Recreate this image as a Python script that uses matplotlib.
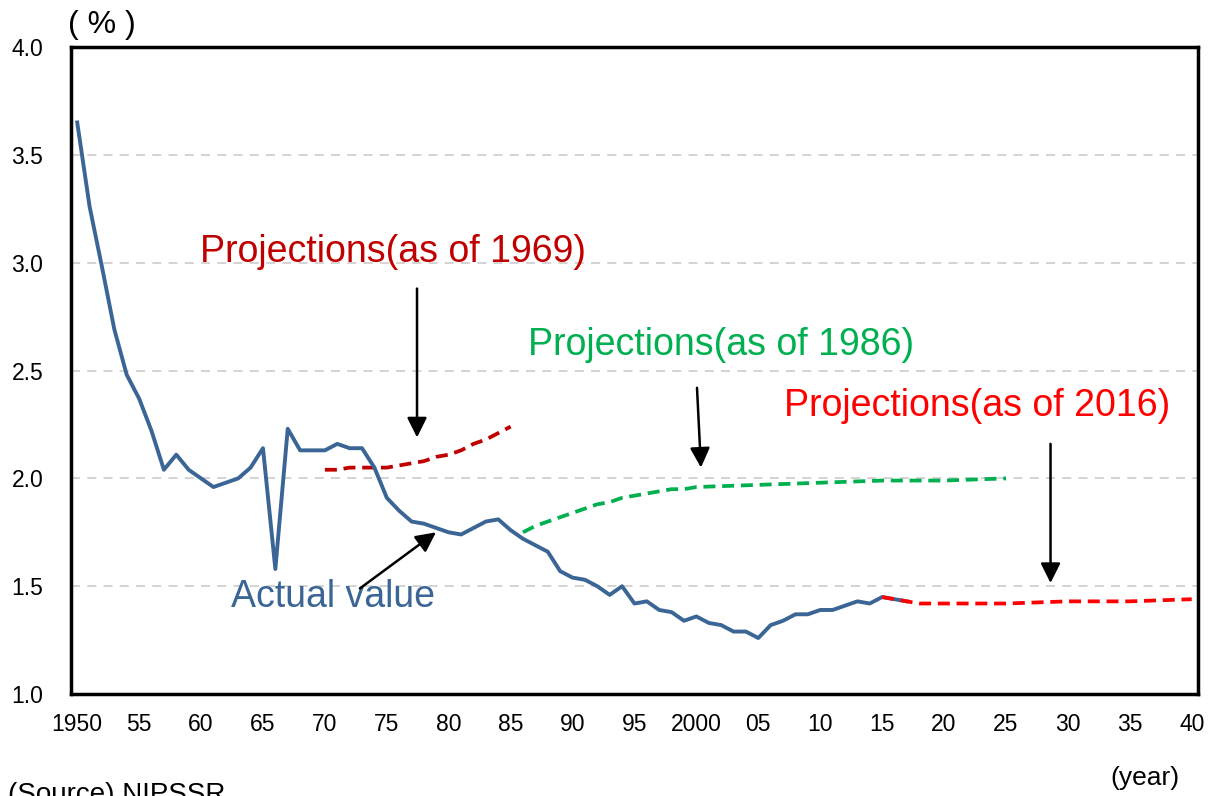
import matplotlib
matplotlib.use("Agg")
import matplotlib.pyplot as plt

plt.rcParams['font.family'] = ['Liberation Sans', 'DejaVu Sans']

# actual total fertility rate 1950-2017
actual_years = list(range(1950, 2018))
actual_vals = [3.65, 3.26, 2.98, 2.69, 2.48, 2.37, 2.22, 2.04, 2.11, 2.04,
               2.00, 1.96, 1.98, 2.00, 2.05, 2.14, 1.58, 2.23, 2.13, 2.13,
               2.13, 2.16, 2.14, 2.14, 2.05, 1.91, 1.85, 1.80, 1.79, 1.77,
               1.75, 1.74, 1.77, 1.80, 1.81, 1.76, 1.72, 1.69, 1.66, 1.57,
               1.54, 1.53, 1.50, 1.46, 1.50, 1.42, 1.43, 1.39, 1.38, 1.34,
               1.36, 1.33, 1.32, 1.29, 1.29, 1.26, 1.32, 1.34, 1.37, 1.37,
               1.39, 1.39, 1.41, 1.43, 1.42, 1.45, 1.44, 1.43]

# projections as of 1969
p69_years = list(range(1970, 1986))
p69_vals = [2.04, 2.04, 2.05, 2.05, 2.05, 2.05, 2.06, 2.07, 2.08, 2.10,
            2.11, 2.13, 2.16, 2.18, 2.21, 2.24]

# projections as of 1986
p86_years = list(range(1986, 2001)) + [2005, 2010, 2015, 2020, 2025]
p86_vals = [1.75, 1.78, 1.80, 1.82, 1.84, 1.86, 1.88, 1.89, 1.91, 1.92,
            1.93, 1.94, 1.95, 1.95, 1.96, 1.97, 1.98, 1.99, 1.99, 2.00]

# projections as of 2016
p16_years = list(range(2015, 2026)) + [2030, 2035, 2040]
p16_vals = [1.45, 1.44, 1.43, 1.42, 1.42, 1.42, 1.42, 1.42, 1.42, 1.42,
            1.42, 1.43, 1.43, 1.44]

tick_years = list(range(1950, 2041, 5))
tick_labels = ['1950', '55', '60', '65', '70', '75', '80', '85', '90', '95',
               '2000', '05', '10', '15', '20', '25', '30', '35', '40']

fig = plt.figure(figsize=(12.1, 7.96), dpi=100)
ax = fig.add_axes([0.0587, 0.128, 0.9313, 0.813])

for y in [1.5, 2.0, 2.5, 3.0, 3.5]:
    ax.axhline(y, color='#d0d0d0', lw=1.3, ls=(0, (5, 4)), zorder=1)

ax.plot(p69_years, p69_vals, color='#c00000', lw=2.7, ls=(0, (3.2, 1.8)), zorder=3)
ax.plot(p86_years, p86_vals, color='#00b050', lw=2.7, ls=(0, (3.2, 1.8)), zorder=3)
ax.plot(actual_years, actual_vals, color='#3a6595', lw=2.8, zorder=4)
ax.plot(p16_years, p16_vals, color='#ff0000', lw=2.7, ls=(0, (3.2, 1.8)), zorder=5)

ax.set_xlim(1949.5, 2040.5)
ax.set_ylim(1.0, 4.0)
ax.set_xticks(tick_years)
ax.set_xticklabels(tick_labels)
ax.set_yticks([1.0, 1.5, 2.0, 2.5, 3.0, 3.5, 4.0])
ax.set_yticklabels(['1.0', '1.5', '2.0', '2.5', '3.0', '3.5', '4.0'])
ax.tick_params(length=0, labelsize=16.5)
ax.tick_params(axis='x', pad=13.5)
ax.tick_params(axis='y', pad=20)
for s in ax.spines.values():
    s.set_linewidth(2.5)
    s.set_color('black')

# labels
ax.text(1959.9, 3.05, 'Projections(as of 1969)', color='#c00000', fontsize=27, va='center')
ax.text(1986.4, 2.62, 'Projections(as of 1986)', color='#00b050', fontsize=27, va='center')
ax.text(2007.1, 2.335, 'Projections(as of 2016)', color='#ff0000', fontsize=27, va='center')
ax.text(1962.4, 1.45, 'Actual value', color='#3a6595', fontsize=27, va='center')

arrow = dict(arrowstyle='-|>', color='black', lw=1.8, mutation_scale=30, shrinkA=0, shrinkB=0)
ax.annotate('', xy=(1977.44, 2.19), xytext=(1977.44, 2.88), arrowprops=arrow)
ax.annotate('', xy=(2000.37, 2.05), xytext=(2000.05, 2.42), arrowprops=arrow)
ax.annotate('', xy=(2028.6, 1.515), xytext=(2028.6, 2.16), arrowprops=arrow)
ax.annotate('', xy=(1978.97, 1.75), xytext=(1972.83, 1.49), arrowprops=arrow)

fig.text(68 / 1210, 1 - 25 / 796, '( % )', fontsize=23, va='center', ha='left')
fig.text(1180 / 1210, 1 - 778 / 796, '(year)', fontsize=19, va='center', ha='right')
fig.text(8 / 1210, 1 - 795 / 796, '(Source) NIPSSR', fontsize=20, va='center', ha='left')

fig.savefig('out.png', dpi=100)
